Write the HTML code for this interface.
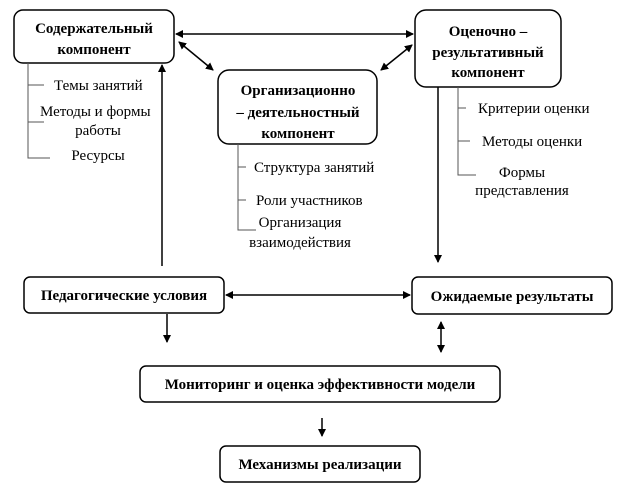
<!DOCTYPE html><html><head><meta charset="utf-8"><style>
body{margin:0;background:#fff;width:624px;height:496px;overflow:hidden}
svg text{font-family:"Liberation Serif","Times New Roman",serif;font-size:15px;fill:#000}
.b{font-weight:bold}
</style></head><body>
<svg width="624" height="496" xmlns="http://www.w3.org/2000/svg">
<defs><marker id="a" markerWidth="8" markerHeight="8" refX="7" refY="4" orient="auto-start-reverse" markerUnits="userSpaceOnUse"><path d="M0,0 L8,4 L0,8z" fill="#000"/></marker></defs>
<g fill="none" stroke="#000" stroke-width="1.5">
<rect x="14" y="10" width="160" height="53" rx="9"/>
<rect x="218" y="70" width="159" height="74" rx="11"/>
<rect x="415" y="10" width="146" height="77" rx="11"/>
<rect x="24" y="277" width="200" height="36" rx="6"/>
<rect x="412" y="277" width="200" height="37" rx="6"/>
<rect x="140" y="366" width="360" height="36" rx="6"/>
<rect x="220" y="446" width="200" height="36" rx="6"/>
<line x1="176" y1="34" x2="413" y2="34" marker-start="url(#a)" marker-end="url(#a)"/>
<line x1="179" y1="42" x2="213" y2="70" marker-start="url(#a)" marker-end="url(#a)"/>
<line x1="381" y1="70" x2="412" y2="45" marker-start="url(#a)" marker-end="url(#a)"/>
<line x1="162" y1="266" x2="162" y2="65" marker-end="url(#a)"/>
<line x1="438" y1="87" x2="438" y2="262" marker-end="url(#a)"/>
<line x1="226" y1="295" x2="410" y2="295" marker-start="url(#a)" marker-end="url(#a)"/>
<line x1="167" y1="314" x2="167" y2="342" marker-end="url(#a)"/>
<line x1="441" y1="322" x2="441" y2="352" marker-start="url(#a)" marker-end="url(#a)"/>
<line x1="322" y1="418" x2="322" y2="436" marker-end="url(#a)"/>
</g>
<g fill="none" stroke="#555" stroke-width="1">
<path d="M28,63 V158 H50 M28,85 H44 M28,122 H44"/>
<path d="M238,144 V230 H256 M238,167 H246 M238,200 H246"/>
<path d="M458,87 V175 H476 M458,108 H466 M458,141 H470"/>
</g>
<g text-anchor="middle">
<text x="94" y="33" class="b">Содержательный</text>
<text x="94" y="54" class="b">компонент</text>
<text x="298" y="95" class="b">Организационно</text>
<text x="298" y="117" class="b">– деятельностный</text>
<text x="298" y="138" class="b">компонент</text>
<text x="488" y="36" class="b">Оценочно –</text>
<text x="488" y="57" class="b">результативный</text>
<text x="488" y="77" class="b">компонент</text>
<text x="124" y="300" class="b">Педагогические условия</text>
<text x="512" y="301" class="b">Ожидаемые результаты</text>
<text x="320" y="389" class="b">Мониторинг и оценка эффективности модели</text>
<text x="320" y="469" class="b">Механизмы реализации</text>
</g>
<g>
<text x="54" y="90">Темы занятий</text>
<text x="40" y="116">Методы и формы</text>
<text x="98" y="135" text-anchor="middle">работы</text>
<text x="98" y="160" text-anchor="middle">Ресурсы</text>
<text x="254" y="172">Структура занятий</text>
<text x="256" y="205">Роли участников</text>
<text x="300" y="227" text-anchor="middle">Организация</text>
<text x="300" y="247" text-anchor="middle">взаимодействия</text>
<text x="478" y="113">Критерии оценки</text>
<text x="482" y="146">Методы оценки</text>
<text x="522" y="177" text-anchor="middle">Формы</text>
<text x="522" y="195" text-anchor="middle">представления</text>
</g>
</svg>
</body></html>
